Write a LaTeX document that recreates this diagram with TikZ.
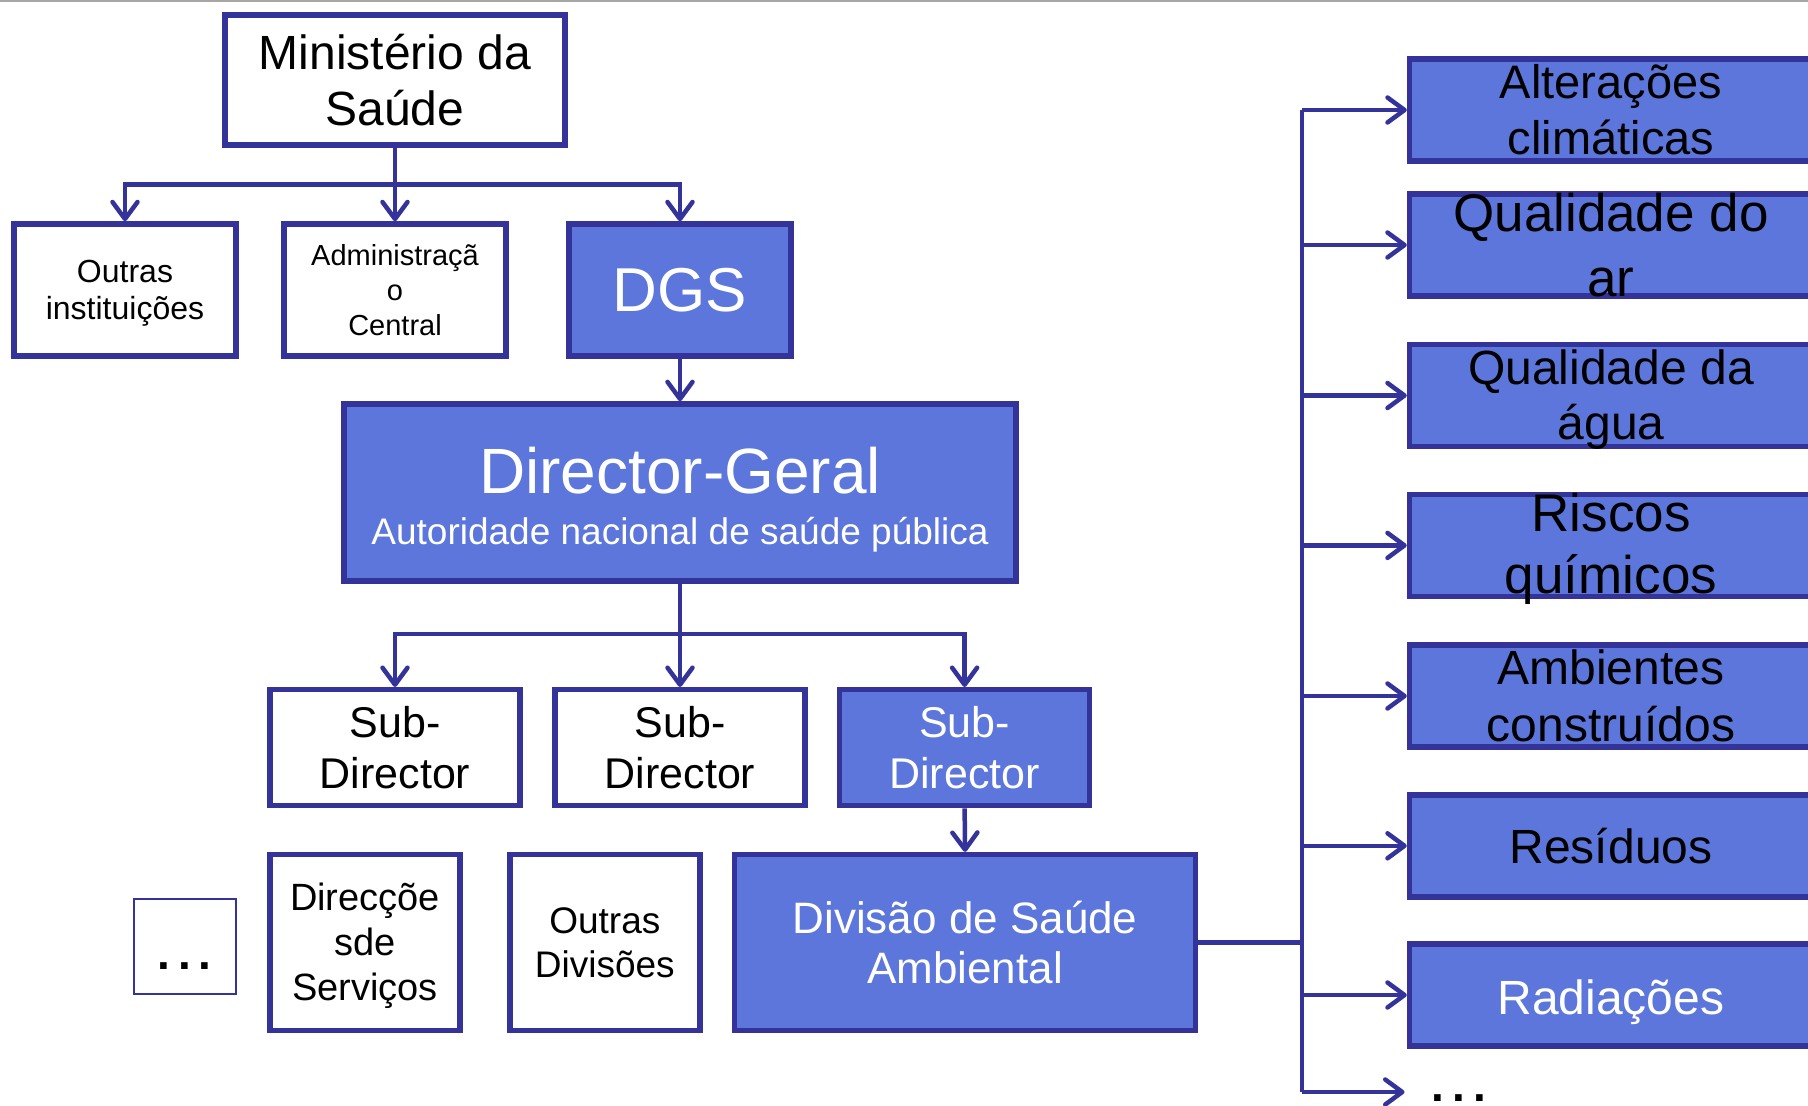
\documentclass[tikz,border=0pt]{standalone}
\usepackage{fontspec}
\setmainfont{Liberation Sans}
\usetikzlibrary{arrows.meta}
\definecolor{navy}{RGB}{51,51,153}
\definecolor{blueF}{RGB}{92,118,220}
\newcommand{\myfs}[2]{\fontsize{#1pt}{#2pt}\selectfont}
\tikzset{
  box/.style={draw=navy, line width=5.5pt, fill=white, inner sep=0pt},
  fbox/.style={box, fill=blueF},
  lbl/.style={inner sep=0pt, align=center, text=black},
  wlbl/.style={lbl, text=white},
  conn/.style={draw=navy, line width=4.5pt},
  arr/.style={conn, -{Straight Barb[length=17pt,width=25pt,round]}},
  rbox/.style={fbox, minimum width=403pt, minimum height=102pt},
  sdbox/.style={box, minimum width=250pt, minimum height=116pt},
  topbox/.style={box, minimum width=222pt, minimum height=132pt},
  lowbox/.style={box, minimum width=190pt, minimum height=176pt},
}
\begin{document}
\begin{tikzpicture}[x=1pt, y=-1pt]
\useasboundingbox (0,0) rectangle (1808,1106);
\fill[white] (0,0) rectangle (1808,1106);
\draw[gray!70, line width=2pt] (0,1) -- (1808,1);

% top level
\node[box, minimum width=340pt, minimum height=130pt] (min) at (395,80) {};
\node[lbl, font=\myfs{48}{56.5}] (mint) at (min) {Ministério da\\Saúde};

\node[topbox] (oi) at (125,290) {};
\node[lbl, font=\myfs{32}{37}] (oit) at (125,293) {Outras\\instituições};
\node[topbox] (adm) at (395,290) {};
\node[lbl, font=\myfs{29}{35}] (admt) at (adm) {Administraçã\\o\\Central};
\node[topbox, fill=blueF] (dgs) at (680,290) {};
\node[wlbl, font=\myfs{62}{70}] (dgst) at (dgs) {DGS};

\coordinate (b1) at (395,184.5);
\draw[conn] (min.south) -- (b1);
\draw[arr] (b1) -| (oi.north);
\draw[arr] (b1) -- (adm.north);
\draw[arr] (b1) -| (dgs.north);

% director-geral
\node[fbox, minimum width=672pt, minimum height=177pt] (dg) at (680,492.4) {};
\node[wlbl, font=\myfs{64}{70}, anchor=base] (dgt) at (680,493.5) {Director-Geral};
\node[wlbl, font=\myfs{37}{42}, anchor=base] (dgs2) at (680,544) {Autoridade nacional de saúde pública};
\draw[arr] (dgs.south) -- (dg.north);

% sub-directors
\node[sdbox] (sd1) at (395,747.7) {};
\node[lbl, font=\myfs{43}{51}] (sd1t) at (sd1) {Sub-\\Director};
\node[sdbox] (sd2) at (680,747.7) {};
\node[lbl, font=\myfs{43}{51}] (sd2t) at (sd2) {Sub-\\Director};
\node[sdbox, fill=blueF] (sd3) at (964.6,747.7) {};
\node[wlbl, font=\myfs{43}{51}] (sd3t) at (sd3) {Sub-\\Director};

\coordinate (b2) at (680,634);
\draw[conn] (dg.south) -- (b2);
\draw[arr] (b2) -| (sd1.north);
\draw[arr] (b2) -- (sd2.north);
\draw[arr] (b2) -| (sd3.north);

% lower row
\node[draw=navy, line width=2pt, fill=white, minimum width=102pt, minimum height=95pt, inner sep=0pt] (dotsbox) at (184.5,946.7) {};
\node[lbl, font=\bfseries\myfs{46}{50}, anchor=base] (dotst) at (184.5,969.5) {.\hspace{8pt}.\hspace{8pt}.};
\node[lowbox] (dss) at (365,942.6) {};
\node[lbl, font=\myfs{38}{45}] (dsst) at (365,945.6) {Direcçõe\\sde\\Serviços};
\node[lowbox] (odv) at (604.8,942.6) {};
\node[lbl, font=\myfs{37}{44}] (odvt) at (odv) {Outras\\Divisões};
\node[fbox, minimum width=461pt, minimum height=176pt] (div) at (965.1,942.6) {};
\node[wlbl, font=\myfs{44}{50}] (divt) at (div) {Divisão de Saúde\\Ambiental};
\draw[arr] (sd3.south) -- (div.north);

% right column
\node[rbox] (alt) at (1611,110) {};
\node[lbl, font=\myfs{47}{56}] (altt) at (alt) {Alterações\\climáticas};
\node[rbox] (qar) at (1611,245) {};
\node[lbl, font=\myfs{53}{65}] (qart) at (qar) {Qualidade do\\ar};
\node[rbox] (qag) at (1611,395.5) {};
\node[lbl, font=\myfs{48}{55}] (qagt) at (1611,399.5) {Qualidade da\\água};
\node[rbox] (rq) at (1611,545.4) {};
\node[lbl, font=\myfs{53}{62}] (rqt) at (1611,548.5) {Riscos\\químicos};
\node[rbox] (amb) at (1611,696) {};
\node[lbl, font=\myfs{48}{56.5}] (ambt) at (amb) {Ambientes\\construídos};
\node[rbox] (res) at (1611,845.8) {};
\node[lbl, font=\myfs{48}{56}] (rest) at (res) {Resíduos};
\node[rbox] (rad) at (1611,995) {};
\node[wlbl, font=\myfs{48}{56}, anchor=base] (radt) at (1611,1014.7) {Radiações};

\coordinate (trunk) at (1302,942.6);
\coordinate (endarr) at (1404.5,1092);
\draw[conn] (div.east) -- (trunk);
\draw[conn] (trunk |- alt.west) -- (trunk |- endarr);
\draw[arr] (trunk |- alt.west) -- (alt.west);
\draw[arr] (trunk |- qar.west) -- (qar.west);
\draw[arr] (trunk |- qag.west) -- (qag.west);
\draw[arr] (trunk |- rq.west) -- (rq.west);
\draw[arr] (trunk |- amb.west) -- (amb.west);
\draw[arr] (trunk |- res.west) -- (res.west);
\draw[arr] (trunk |- rad.west) -- (rad.west);
\draw[arr] (trunk |- endarr) -- (endarr);
\node[lbl, font=\bfseries\myfs{46}{50}, anchor=base] (rdots) at (1459,1101) {.\hspace{8pt}.\hspace{8pt}.};
\end{tikzpicture}
\end{document}
